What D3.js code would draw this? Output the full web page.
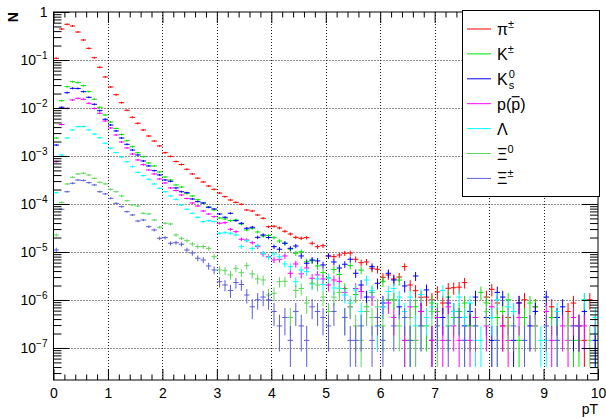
<!DOCTYPE html>
<html><head><meta charset="utf-8">
<script src="https://cdn.jsdelivr.net/npm/d3@7"></script>
<style>body{margin:0;background:#fff}svg{display:block}text{font-family:"Liberation Sans",Arial,Helvetica,sans-serif}</style>
</head><body>
<svg id="c" width="606" height="419"></svg>
<script>
// ---------------- data ----------------
const binLowEdges = d3.range(0, 100).map(i => i / 10);   // 100 bins of 0.1 in pT from 0 to 10
const binWidth = 0.1;
const unitWeight = 1.44e-7; // weight of one entry (used for Poisson error bars)

const seriesNames = ["π±", "K±", "K0s", "p(pbar)", "Λ", "Ξ0", "Ξ±"];

const piVals = [0.1085,0.4425,0.5546,0.511,0.383,0.261,0.175,0.1116,0.0705,0.0443,
 0.0274,0.0189,0.0129,0.00896,0.0064,0.0048,0.00348,0.00261,0.00205,0.00162,
 0.00117,0.00098,0.000768,0.000665,0.000528,0.000422,0.000345,0.000287,0.000237,0.000202,
 0.000169,0.000142,0.000121,0.000108,9.86e-5,7.5e-5,7.15e-5,5.9e-5,5.04e-5,3.36e-5,
 3.43e-5,3.16e-5,2.7e-5,2.37e-5,2.02e-5,1.93e-5,1.99e-5,1.52e-5,1.29e-5,1.35e-5,
 8.26e-6,8.0e-6,8.66e-6,9.4e-6,9.5e-6,7.05e-6,5.98e-6,6.19e-6,4.57e-6,4.36e-6,
 2.97e-6,3.32e-6,2.74e-6,3.0e-6,4.94e-6,2.05e-6,1.56e-6,1.14e-6,1.15e-6,1.01e-6,
 1.47e-6,8.64e-7,1.75e-6,1.8e-6,1.85e-6,2.3e-6,5.76e-7,4.32e-7,0,1.15e-6,
 1.67e-6,8.64e-7,2.88e-7,4.32e-7,0,8.64e-7,1.01e-6,0,7.2e-7,0,
 0,7.2e-7,4.32e-7,0,5.76e-7,8.64e-7,2.88e-7,1.44e-7,1.01e-6,2.88e-7];

const kchVals = [0.00237,0.0142,0.0278,0.0353,0.0337,0.0292,0.0219,0.0152,0.01035,0.00715,
 0.0051,0.00374,0.0028,0.00208,0.00156,0.00117,0.000967,0.000715,0.00062,0.000464,
 0.000365,0.000316,0.000249,0.000226,0.000164,0.000147,0.000123,0.000105,8.66e-5,7.5e-5,
 5.11e-5,4.87e-5,4.49e-5,4.64e-5,3.83e-5,2.87e-5,3.12e-5,2.61e-5,2.16e-5,2.2e-5,
 1.99e-5,1.69e-5,1.52e-5,1.15e-5,9.4e-6,1.01e-5,6.28e-6,6.59e-6,5.11e-6,3.7e-6,
 2.88e-6,4.32e-6,3.4e-6,1.73e-6,5.2e-6,1.3e-6,4.2e-6,7.2e-7,1.44e-6,4.32e-7,
 2.45e-6,1.01e-6,1.01e-6,2.6e-6,1.44e-7,1.44e-7,7.2e-7,0,2.88e-7,8.64e-7,
 5.76e-7,0,1.15e-6,4.32e-7,5.76e-7,8.64e-7,2.88e-7,0,1.44e-6,8.64e-7,
 0,4.32e-7,5.76e-7,1.01e-6,5.76e-7,1.44e-7,4.32e-7,8.64e-7,7.2e-7,0,
 0,4.32e-7,0,0,0,1.44e-7,1.44e-7,1.01e-6,0,1.44e-7];

const k0sVals = [0.00169,0.01035,0.0208,0.0257,0.0255,0.0219,0.0167,0.01194,0.00879,0.00582,
 0.00442,0.00332,0.00237,0.00175,0.00133,0.00105,0.000787,0.00062,0.000494,0.000402,
 0.000316,0.000297,0.000216,0.00018,0.000172,0.000127,0.000112,0.000105,8.53e-5,7.87e-5,
 6.19e-5,5.28e-5,6.4e-5,4.49e-5,3.96e-5,3.12e-5,3.27e-5,2.02e-5,2.26e-5,2.0e-5,
 1.29e-5,1.14e-5,1.52e-5,1.19e-5,1.33e-5,8.26e-6,5.82e-6,6.81e-6,6.5e-6,5.36e-6,
 8.26e-6,6.19e-6,4.64e-6,5.55e-6,7.05e-6,3.6e-6,2.05e-6,1.15e-6,4.94e-6,2.23e-6,
 8.64e-7,3.6e-6,2.61e-6,7.2e-7,1.96e-6,0,3.16e-6,5.76e-7,1.62e-6,1.44e-7,
 0,4.32e-7,8.64e-7,5.76e-7,0,2.88e-7,5.76e-7,1.15e-6,0,4.32e-7,
 1.44e-7,1.44e-6,1.15e-6,0,1.44e-7,8.64e-7,0,2.88e-7,5.76e-7,0,
 1.15e-6,0,4.32e-7,7.2e-7,0,2.88e-7,0,5.76e-7,0,1.44e-7];

const pVals = [0.00076,0.00453,0.00986,0.0147,0.0159,0.0152,0.01253,0.0098,0.00776,0.00536,
 0.00383,0.00274,0.00196,0.00147,0.0011,0.000826,0.000659,0.000511,0.000422,0.000332,
 0.000274,0.000216,0.000191,0.000154,0.00013,0.000105,9.08e-5,7.15e-5,6.19e-5,5.44e-5,
 3.96e-5,4.07e-5,2.97e-5,2.65e-5,1.84e-5,1.78e-5,1.56e-5,1.29e-5,9.08e-6,7.97e-6,
 6.81e-6,7.05e-6,8.26e-6,3.6e-6,5.62e-6,3.5e-6,4.64e-6,2.83e-6,3.32e-6,2.74e-6,
 2.05e-6,2.61e-6,2.45e-6,1.44e-6,7.2e-7,1.73e-6,1.5e-6,5.76e-7,1.15e-6,2.88e-7,
 7.2e-7,8.64e-7,4.32e-7,0,1.44e-7,7.2e-7,1.44e-7,5.76e-7,0,1.44e-7,
 4.32e-7,1.44e-7,7.2e-7,2.88e-7,1.44e-7,0,1.44e-7,4.32e-7,0,2.88e-7,
 7.2e-7,0,2.88e-7,1.44e-7,0,4.32e-7,0,0,2.88e-7,0,
 5.76e-7,1.44e-7,0,2.88e-7,1.44e-7,4.32e-7,2.88e-7,2.88e-7,0,0];

const lambdaVals = [0.000172,0.00105,0.00237,0.00348,0.00407,0.0041,0.0035,0.00287,0.0024,0.00184,
 0.00145,0.00118,0.000953,0.00076,0.000598,0.000457,0.000389,0.000327,0.000261,0.000212,
 0.00018,0.000147,0.000125,9.53e-5,7.76e-5,6.4e-5,5.28e-5,4.28e-5,4.49e-5,4.3e-5,
 2.45e-5,2.52e-5,2.46e-5,2.26e-5,1.29e-5,1.72e-5,1.19e-5,1.35e-5,9.4e-6,7.76e-6,
 9.08e-6,7.97e-6,5.62e-6,4.94e-6,2.4e-6,4.22e-6,3.89e-6,2.16e-6,2.74e-6,2.1e-6,
 2.88e-6,1.78e-6,1.75e-6,1.27e-6,8.64e-7,1.62e-6,5.76e-7,2.61e-6,1.58e-6,2.88e-7,
 7.2e-7,1.5e-6,1.73e-6,1.15e-6,5.76e-7,1.15e-6,2.88e-7,1.3e-6,4.32e-7,7.2e-7,
 0,1.58e-6,2.88e-7,5.76e-7,1.15e-6,4.32e-7,8.64e-7,1.44e-7,1.44e-7,0,
 4.32e-7,1.01e-6,0,7.2e-7,5.76e-7,0,0,0,0,1.44e-7,
 1.44e-7,0,5.76e-7,0,0,0,0,1.01e-6,0,4.32e-7];

const xi0Vals = [2.26e-5,0.000108,0.000261,0.00036,0.000422,0.000436,0.000402,0.000343,0.000283,0.000262,
 0.000202,0.00018,0.000147,0.000117,9.53e-5,9.08e-5,6.4e-5,6.19e-5,4.64e-5,3.27e-5,
 3.96e-5,3.83e-5,2.26e-5,1.93e-5,1.72e-5,1.47e-5,1.29e-5,1.3e-5,1.19e-5,7.97e-6,
 4.22e-6,4.07e-6,3.32e-6,4.57e-6,3.7e-6,5.19e-6,3.48e-6,2.74e-6,2.61e-6,1.27e-6,
 1.38e-6,2.4e-6,2.45e-6,4.32e-7,1.58e-6,1.73e-6,8.64e-7,2.23e-6,2.05e-6,1.15e-6,
 5.76e-7,1.15e-6,1.44e-6,4.32e-7,7.2e-7,2.88e-7,1.44e-7,5.76e-7,4.32e-7,7.2e-7,
 2.88e-7,0,1.01e-6,2.88e-7,0,4.32e-7,1.44e-7,2.88e-7,0,5.76e-7,
 1.44e-7,0,2.88e-7,0,4.32e-7,1.44e-7,0,2.88e-7,0,5.76e-7,
 0,1.44e-7,0,2.88e-7,0,0,1.44e-7,0,2.88e-7,0,
 0,0,1.44e-7,0,2.88e-7,0,0,0,1.44e-7,0];

const xichVals = [1.1e-5,7.76e-5,0.00018,0.00027,0.000316,0.00031,0.000278,0.000249,0.00018,0.000162,
 0.000131,0.000103,8.79e-5,6.91e-5,5.9e-5,4.42e-5,4.64e-5,3.36e-5,2.87e-5,1.93e-5,
 1.99e-5,1.52e-5,1.56e-5,1.45e-5,1.1e-5,9.53e-6,7.4e-6,6.81e-6,5.11e-6,4.22e-6,
 2.4e-6,2.05e-6,1.58e-6,2.3e-6,2.1e-6,1.27e-6,7.2e-7,1.01e-6,1.15e-6,1.01e-6,
 5.76e-7,2.88e-7,4.32e-7,1.44e-7,5.76e-7,2.88e-7,1.44e-7,7.2e-7,5.76e-7,4.32e-7,
 2.88e-7,5.76e-7,0,4.32e-7,1.44e-7,1.44e-7,2.88e-7,0,1.44e-7,4.32e-7,
 1.44e-7,0,2.88e-7,0,4.32e-7,1.44e-7,0,2.88e-7,0,0,
 2.88e-7,0,1.44e-7,0,4.32e-7,1.44e-7,0,2.88e-7,0,0,
 0,1.44e-7,0,0,2.88e-7,0,1.44e-7,0,0,0,
 2.88e-7,0,1.44e-7,0,0,0,2.88e-7,0,0,0];

const xTickValues = [0,1,2,3,4,5,6,7,8,9,10];
const yDecadeExponents = [0,-1,-2,-3,-4,-5,-6,-7];
const xTitle = "pT";
const yTitle = "N";

// ---------------- layout / style ----------------
const colors = ["#ff0000", "#00e600", "#0000ff", "#ff00ff", "#00ffff", "#5cd65c", "#5c5cdc"];
const seriesList = [piVals, kchVals, k0sVals, pVals, lambdaVals, xi0Vals, xichVals];

const L = 53.5, R = 598, T = 12, B = 380;
const svg = d3.select("#c");
const x = d3.scaleLinear().domain([0, 10]).range([L, R]);
const y = d3.scaleLog().domain([2.15e-8, 1]).range([B, T]);
const yFloorPx = 367;

// grid
const gGrid = svg.append("g");
xTickValues.filter(v => v > 0 && v < 10).forEach(v => {
  gGrid.append("line").attr("x1", Math.round(x(v)) + 0.5).attr("x2", Math.round(x(v)) + 0.5)
    .attr("y1", T).attr("y2", B).attr("stroke", "#222").attr("stroke-width", 1).attr("stroke-dasharray", "1,2");
});
yDecadeExponents.filter(e => e < 0).forEach(e => {
  const yy = Math.round(y(Math.pow(10, e))) + 0.5;
  gGrid.append("line").attr("x1", L).attr("x2", R).attr("y1", yy).attr("y2", yy)
    .attr("stroke", "#222").attr("stroke-width", 1).attr("stroke-dasharray", "1,2");
});

// histograms with error bars
const clip = svg.append("clipPath").attr("id", "pc").append("rect")
  .attr("x", L).attr("y", T).attr("width", R - L).attr("height", B - T);
const gData = svg.append("g").attr("clip-path", "url(#pc)");
seriesList.forEach((vals, si) => {
  const g = gData.append("g").attr("stroke", colors[si]).attr("stroke-width", 1).attr("fill", "none");
  vals.forEach((v, i) => {
    if (!(v > 0)) return;
    const lo = binLowEdges[i], hi = lo + binWidth;
    const err = Math.sqrt(v * unitWeight);
    const yc = y(v);
    let yTop = y(v + err);
    let yBot = (v - err) > 0 ? Math.min(y(v - err), yFloorPx) : yFloorPx;
    if (yc - yTop < 1) yTop = yc - 1;
    if (yBot - yc < 1) yBot = yc + 1;
    const xc = x(lo + binWidth / 2);
    g.append("line").attr("x1", x(lo)).attr("x2", x(hi)).attr("y1", yc).attr("y2", yc);
    g.append("line").attr("x1", xc).attr("x2", xc).attr("y1", yTop).attr("y2", yBot);
  });
});

// axes
const fontTick = 14;
const xMinor = d3.range(0, 10.001, 0.2).filter(v => Math.abs(v - Math.round(v)) > 1e-6);
function styleAxis(sel) { sel.select(".domain").remove(); sel.selectAll("line").attr("stroke", "#000"); }

const gxB = svg.append("g").attr("transform", `translate(0,${B})`)
  .call(d3.axisBottom(x).tickValues(xTickValues).tickSizeInner(-11).tickSizeOuter(0).tickPadding(8).tickFormat(d3.format("d")));
styleAxis(gxB);
gxB.selectAll("text").attr("font-size", fontTick).attr("fill", "#000").attr("font-family", "Liberation Sans, Arial, sans-serif");
const gxBm = svg.append("g").attr("transform", `translate(0,${B})`)
  .call(d3.axisBottom(x).tickValues(xMinor).tickSizeInner(-5.5).tickSizeOuter(0).tickFormat(""));
styleAxis(gxBm);
const gxT = svg.append("g").attr("transform", `translate(0,${T})`)
  .call(d3.axisTop(x).tickValues(xTickValues).tickSizeInner(-11).tickSizeOuter(0).tickFormat(""));
styleAxis(gxT);
const gxTm = svg.append("g").attr("transform", `translate(0,${T})`)
  .call(d3.axisTop(x).tickValues(xMinor).tickSizeInner(-5.5).tickSizeOuter(0).tickFormat(""));
styleAxis(gxTm);

const yMajor = yDecadeExponents.map(e => Math.pow(10, e));
const yMinor = [];
[-8, -7, -6, -5, -4, -3, -2, -1].forEach(e => { for (let m = 2; m <= 9; m++) { const v = m * Math.pow(10, e); if (v >= 2.15e-8 && v <= 1) yMinor.push(v); } });
const gyL = svg.append("g").attr("transform", `translate(${L},0)`)
  .call(d3.axisLeft(y).tickValues(yMajor).tickSizeInner(-16).tickSizeOuter(0).tickFormat(""));
styleAxis(gyL);
const gyLm = svg.append("g").attr("transform", `translate(${L},0)`)
  .call(d3.axisLeft(y).tickValues(yMinor).tickSizeInner(-8).tickSizeOuter(0).tickFormat(""));
styleAxis(gyLm);
const gyR = svg.append("g").attr("transform", `translate(${R},0)`)
  .call(d3.axisRight(y).tickValues(yMajor).tickSizeInner(-16).tickSizeOuter(0).tickFormat(""));
styleAxis(gyR);
const gyRm = svg.append("g").attr("transform", `translate(${R},0)`)
  .call(d3.axisRight(y).tickValues(yMinor).tickSizeInner(-8).tickSizeOuter(0).tickFormat(""));
styleAxis(gyRm);

// y labels
yDecadeExponents.forEach(e => {
  const yy = y(Math.pow(10, e));
  const t = svg.append("text").attr("x", L - 6).attr("y", yy + 5).attr("text-anchor", "end")
    .attr("font-size", fontTick).attr("fill", "#000");
  if (e === 0) { t.text("1"); }
  else {
    t.append("tspan").text("10");
    t.append("tspan").attr("dy", -6).attr("font-size", 10).text("\u2212" + (-e));
  }
});

// frame
svg.append("rect").attr("x", L).attr("y", T).attr("width", R - L).attr("height", B - T)
  .attr("fill", "none").attr("stroke", "#000").attr("stroke-width", 1);

// titles
svg.append("text").attr("transform", `translate(18,${T}) rotate(-90)`).attr("text-anchor", "end")
  .attr("font-size", 14).attr("font-weight", "bold").attr("fill", "#000").text(yTitle);
svg.append("text").attr("x", R).attr("y", 414).attr("text-anchor", "end")
  .attr("font-size", 14).attr("fill", "#000").text(xTitle);

// legend
const legX = 462, legY = 10, legW = 137, legH = 186;
const gLeg = svg.append("g");
gLeg.append("rect").attr("x", legX + 0.5).attr("y", legY + 0.5).attr("width", legW).attr("height", legH)
  .attr("fill", "#fff").attr("stroke", "#000").attr("stroke-width", 1);
const legFont = 16;
seriesNames.forEach((name, i) => {
  const cy = 29 + i * 24.9;
  gLeg.append("line").attr("x1", 467).attr("x2", 491).attr("y1", cy).attr("y2", cy)
    .attr("stroke", colors[i]).attr("stroke-width", 1);
  const tx = 497, base = cy + 6;
  const t = gLeg.append("text").attr("x", tx).attr("y", base).attr("font-size", legFont).attr("fill", "#000");
  if (i === 0) { t.append("tspan").text("π"); t.append("tspan").attr("dy", -7).attr("font-size", 11).text("±"); }
  else if (i === 1) { t.append("tspan").text("K"); t.append("tspan").attr("dy", -7).attr("font-size", 11).text("±"); }
  else if (i === 2) {
    t.text("K");
    const w = t.node().getComputedTextLength();
    gLeg.append("text").attr("x", tx + w + 1).attr("y", base - 7).attr("font-size", 11).attr("fill", "#000").text("0");
    gLeg.append("text").attr("x", tx + w + 1).attr("y", base + 4).attr("font-size", 11).attr("fill", "#000").text("s");
  }
  else if (i === 3) {
    t.text("p(p)");
    const t2 = gLeg.append("text").attr("font-size", legFont).text("p(").attr("visibility", "hidden");
    const w1 = t2.node().getComputedTextLength();
    const t3 = gLeg.append("text").attr("font-size", legFont).text("p").attr("visibility", "hidden");
    const wp = t3.node().getComputedTextLength();
    gLeg.append("line").attr("x1", tx + w1 + 0.5).attr("x2", tx + w1 + wp - 0.5).attr("y1", base - 13).attr("y2", base - 13)
      .attr("stroke", "#000").attr("stroke-width", 1.2);
  }
  else if (i === 4) { t.text("Λ"); }
  else if (i === 5) { t.append("tspan").text("Ξ"); t.append("tspan").attr("dy", -7).attr("font-size", 11).text("0"); }
  else { t.append("tspan").text("Ξ"); t.append("tspan").attr("dy", -7).attr("font-size", 11).text("±"); }
});
</script>
</body></html>
